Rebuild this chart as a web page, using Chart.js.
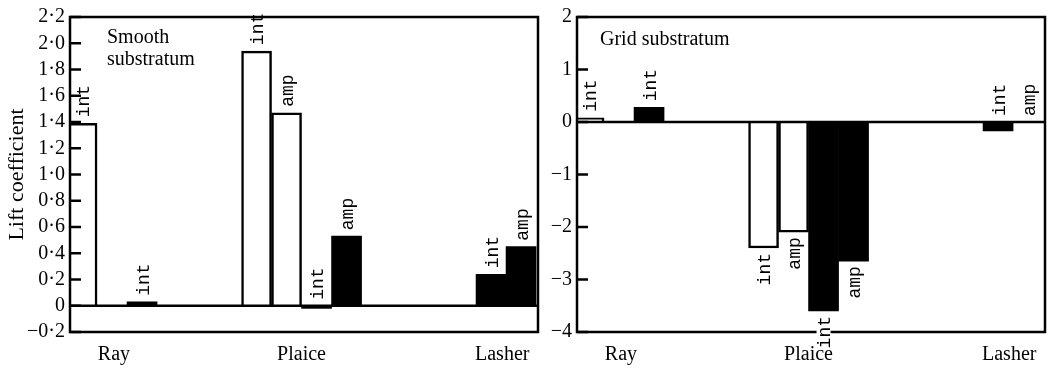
<!DOCTYPE html>
<html>
<head>
<meta charset="utf-8">
<script src="https://cdn.jsdelivr.net/npm/chart.js@4"></script>
<style>
html, body { margin: 0; padding: 0; background: #fff; }
#wrap { position: relative; width: 1052px; height: 369px; overflow: hidden; }
canvas { position: absolute; top: 0; }
</style>
</head>
<body>
<div id="wrap">
  <canvas id="smooth" width="548" height="369" style="left:0"></canvas>
  <canvas id="grid" width="504" height="369" style="left:548px"></canvas>
</div>
<script>
const categories = [ 'Ray', 'Plaice', 'Lasher' ];
const seriesNames = [ 'int', 'amp', 'int', 'amp' ];

// smooth substratum: open int, open amp, filled int, filled amp
const smoothOpenInt = [ 1.39, 1.94, null ];
const smoothOpenAmp = [ null, 1.47, null ];
const smoothFilledInt = [ 0.03, -0.02, 0.24 ];
const smoothFilledAmp = [ null, 0.53, 0.45 ];

// grid substratum
const gridOpenInt = [ 0.08, -2.4, null ];
const gridOpenAmp = [ null, -2.1, null ];
const gridFilledInt = [ 0.28, -3.6, -0.17 ];
const gridFilledAmp = [ null, -2.65, 0 ];

const smoothTicks = { min: -0.2, max: 2.2, step: 0.2 };
const gridTicks = { min: -4, max: 2, step: 1 };

// where groups sit and where their names sit on the x axis
const groupAt = [ 1, 2, 3 ];
const labelAt = [ 0.925, 2.0, 3.15 ];

const serif = 'Liberation Serif, Times New Roman, serif';
const ink = '#000';

const minus = v => ( v < 0 ? '\u2212' : '' );
const smoothFmt = v => Math.abs( v ) < 1e-9 ? '0' : minus( v ) + Math.abs( v ).toFixed( 1 ).replace( '.', '\u00b7' );
const gridFmt = v => Math.abs( v ) < 1e-9 ? '0' : minus( v ) + Math.abs( Math.round( v ) );

const decorate = {
    id: 'decorate',
    afterDatasetsDraw( chart, args, opts ) {
        const { ctx, chartArea: a, scales: { y } } = chart;
        ctx.save();
        ctx.strokeStyle = ink;
        ctx.lineWidth = 2.5;

        const y0 = y.getPixelForValue( 0 );
        ctx.beginPath();
        ctx.moveTo( a.left, y0 );
        ctx.lineTo( a.right, y0 );
        ctx.stroke();

        // inward tick marks
        y.ticks.forEach( t => {
            const py = y.getPixelForValue( t.value );
            ctx.beginPath();
            ctx.moveTo( a.left, py );
            ctx.lineTo( a.left + 11, py );
            ctx.stroke();
        } );

        ctx.strokeRect( a.left, a.top, a.right - a.left, a.bottom - a.top );

        // int / amp labels on the bars
        ctx.fillStyle = ink;
        ctx.font = '18px "Liberation Mono", "Courier New", monospace';
        ctx.textBaseline = 'middle';
        chart.data.datasets.forEach( ( ds, i ) => {
            chart.getDatasetMeta( i ).data.forEach( ( el, j ) => {
                const v = ds.data[ j ].y;
                if ( v === null ) return;
                const name = seriesNames[ i ];
                ctx.save();
                if ( v > -0.3 ) {
                    ctx.translate( el.x + 2, Math.min( el.y, el.base ) - 6 );
                    ctx.textAlign = 'left';
                } else {
                    const end = el.y + 5 + ctx.measureText( name ).width;
                    if ( end > a.bottom - 3 ) {
                        // label runs through the frame: break the line there
                        ctx.fillStyle = '#fff';
                        ctx.fillRect( el.x - 7, a.bottom - 3, 14, 6 );
                        ctx.fillStyle = ink;
                    }
                    ctx.translate( el.x + 2, el.y + 5 );
                    ctx.textAlign = 'right';
                }
                ctx.rotate( -Math.PI / 2 );
                ctx.fillText( name, 0, 0 );
                ctx.restore();
            } );
        } );

        ctx.font = '20px ' + serif;
        ctx.textAlign = 'left';
        ctx.textBaseline = 'alphabetic';
        opts.note.forEach( ( line, k ) => ctx.fillText( line, opts.noteX, opts.noteY + k * 22 ) );
        ctx.restore();
    }
};

const bars = ( values, filled ) => ( {
    data: values.map( ( v, i ) => ( { x: groupAt[ i ], y: v } ) ),
    backgroundColor: filled ? ink : '#fff',
    borderColor: ink,
    borderWidth: filled ? 0 : 2.5,
    barThickness: 30
} );

const liftChart = ( id, sets, range, fmt, o ) => {
    return new Chart( document.getElementById( id ), {
        type: 'bar',
        data: {
            datasets: [
                bars( sets[ 0 ], false ),
                bars( sets[ 1 ], false ),
                bars( sets[ 2 ], true ),
                bars( sets[ 3 ], true )
            ]
        },
        plugins: [ decorate ],
        options: {
            responsive: false,
            animation: false,
            events: [],
            layout: { padding: { top: 15, right: o.padRight, left: 0, bottom: 0 } },
            plugins: {
                legend: { display: false },
                tooltip: { enabled: false },
                decorate: { note: o.note, noteX: o.noteX, noteY: o.noteY }
            },
            scales: {
                x: {
                    type: 'linear',
                    offset: false,
                    min: 0.673,
                    max: 3.355,
                    grid: { display: false, drawTicks: false, offset: false },
                    border: { display: false },
                    afterBuildTicks: s => { s.ticks = labelAt.map( v => ( { value: v } ) ); },
                    afterFit: s => { s.height = 37; },
                    ticks: {
                        autoSkip: false,
                        maxRotation: 0,
                        padding: 11,
                        color: ink,
                        font: { family: serif, size: 20 },
                        callback: ( v, i ) => categories[ i ]
                    }
                },
                y: {
                    min: range.min,
                    max: range.max,
                    grid: { display: false, drawTicks: false },
                    border: { display: false },
                    afterFit: s => { s.width = o.axisWidth; },
                    title: {
                        display: !!o.title,
                        text: o.title || '',
                        color: ink,
                        font: { family: serif, size: 22 }
                    },
                    ticks: {
                        stepSize: range.step,
                        autoSkip: false,
                        padding: 5,
                        color: ink,
                        font: { family: serif, size: 20 },
                        callback: fmt
                    }
                }
            }
        }
    } );
};

liftChart( 'smooth',
    [ smoothOpenInt, smoothOpenAmp, smoothFilledInt, smoothFilledAmp ],
    smoothTicks, smoothFmt,
    { padRight: 10, axisWidth: 70, title: 'Lift coefficient', note: [ 'Smooth', 'substratum' ], noteX: 107, noteY: 43 } );

liftChart( 'grid',
    [ gridOpenInt, gridOpenAmp, gridFilledInt, gridFilledAmp ],
    gridTicks, gridFmt,
    { padRight: 7, axisWidth: 29, note: [ 'Grid substratum' ], noteX: 52, noteY: 45 } );
</script>
</body>
</html>
